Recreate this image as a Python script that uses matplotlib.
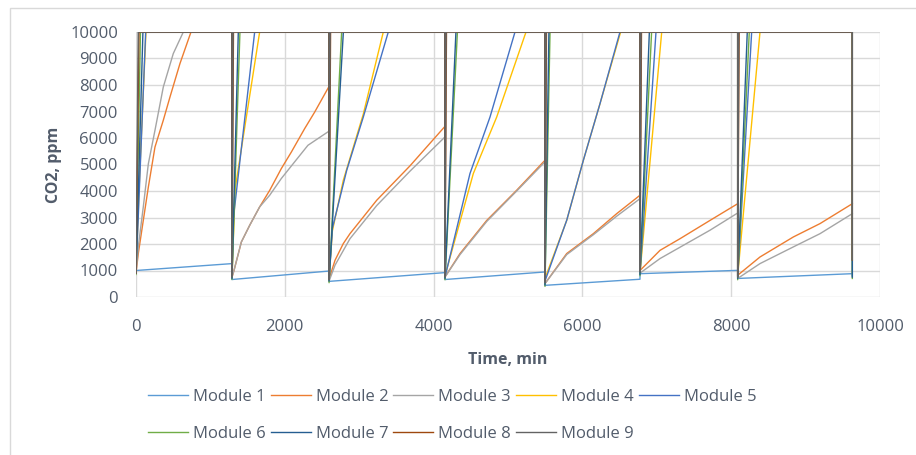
import matplotlib
matplotlib.use('Agg')
import matplotlib.pyplot as plt
from matplotlib.patches import Rectangle

# CO2 readings of 9 modules, time in minutes
m1_t = [0, 1290, 1290, 2595, 2595, 4153, 4153, 5497, 5497, 6774, 6774, 8087, 8087, 9628]
m1_v = [1000, 1260, 660, 980, 590, 920, 660, 945, 440, 670, 880, 1005, 700, 880]

m2_t = [0, 31, 98, 166, 255, 367, 457, 591, 739, 1290,
        1290, 1317, 1416, 1528, 1662, 1797, 1953, 2088, 2267, 2402, 2595,
        2595, 2675, 2786, 2876, 3235, 3683, 4153,
        4153, 4355, 4714, 5117, 5497,
        5497, 5789, 6147, 6461, 6774,
        6774, 7043, 7312, 7715, 8087,
        8087, 8387, 8835, 9194, 9628]
m2_v = [900, 1640, 2890, 4150, 5660, 6670, 7550, 8810, 10000, 10000,
        750, 1000, 2075, 2705, 3400, 4025, 4845, 5470, 6355, 6980, 7950,
        680, 1385, 2015, 2390, 3650, 4950, 6440,
        755, 1640, 2890, 4030, 5160,
        505, 1640, 2390, 3145, 3840,
        1000, 1760, 2200, 2890, 3520,
        820, 1510, 2265, 2770, 3520]

m3_t = [0, 31, 98, 166, 255, 367, 501, 636, 1290,
        1290, 1317, 1416, 1528, 1662, 1797, 1953, 2131, 2311, 2595,
        2595, 2675, 2876, 3235, 3683, 4153,
        4153, 4355, 4714, 5117, 5497,
        5497, 5789, 6147, 6461, 6774,
        6774, 7043, 7715, 8087,
        8087, 8387, 8835, 9194, 9628]
m3_v = [900, 1900, 3400, 5030, 6290, 7925, 9185, 10000, 10000,
        750, 1000, 2075, 2705, 3400, 3840, 4470, 5095, 5725, 6260,
        600, 1200, 2200, 3450, 4750, 6040,
        755, 1600, 2850, 4000, 5100,
        505, 1600, 2350, 3050, 3710,
        900, 1450, 2520, 3170,
        700, 1260, 1890, 2390, 3145]

m4_t = [0, 40, 134, 1290, 1290, 1333, 1662, 2595, 2595, 2640, 2786, 3055, 3324, 4153,
        4153, 4534, 4848, 5242, 5497, 5497, 5789, 6013, 6237, 6514, 6774,
        6774, 7066, 8087, 8087, 8387, 9628, 9628]
m4_v = [900, 4000, 10000, 10000, 800, 4090, 10000, 10000, 700, 2500, 4400, 6900, 10000, 10000,
        800, 4660, 6790, 10000, 10000, 700, 2890, 5160, 7300, 10000, 10000,
        900, 10000, 10000, 800, 10000, 10000, 900]

m5_t = [0, 130, 1290, 1290, 1310, 1595, 2595, 2595, 2640, 2832, 3055, 3391, 4153,
        4153, 4489, 4758, 5094, 5497, 5497, 5789, 6013, 6237, 6505, 6774,
        6774, 6989, 8087, 8087, 8275, 9628, 9628]
m5_v = [900, 10000, 10000, 750, 3000, 10000, 10000, 650, 2600, 4780, 6790, 10000, 10000,
        750, 4660, 6790, 10000, 10000, 600, 2894, 5160, 7300, 10000, 10000,
        850, 10000, 10000, 750, 10000, 10000, 800]

m6_t = [0, 60, 1290, 1290, 1397, 2595, 2595, 2764, 4153, 4153, 4320, 5497, 5497, 5565,
        6774, 6774, 6930, 8087, 8087, 8243, 9628, 9628]
m6_v = [850, 10000, 10000, 660, 10000, 10000, 540, 10000, 10000, 650, 10000, 10000, 400, 10000,
        10000, 800, 10000, 10000, 650, 10000, 10000, 700]

m7_t = [0, 93, 1290, 1290, 1375, 2595, 2595, 2787, 4153, 4153, 4300, 5497, 5497, 5550,
        6774, 6774, 6900, 8087, 8087, 8216, 9628, 9628]
m7_v = [900, 10000, 10000, 700, 10000, 10000, 600, 10000, 10000, 700, 10000, 10000, 450, 10000,
        10000, 850, 10000, 10000, 700, 10000, 10000, 750]

m8_t = [0, 40, 1290, 1290, 1310, 2595, 2595, 2615, 4153, 4153, 4173, 5497, 5497, 5517,
        6774, 6774, 6794, 8087, 8087, 8107, 9628, 9628]
m8_v = [900, 10000, 10000, 800, 10000, 10000, 700, 10000, 10000, 800, 10000, 10000, 600, 10000,
        10000, 1000, 10000, 10000, 800, 10000, 10000, 1400]

m9_t = [0, 30, 1290, 1290, 1305, 2595, 2595, 2610, 4153, 4153, 4168, 5497, 5497, 5512,
        6774, 6774, 6789, 8087, 8087, 8102, 9628, 9628]
m9_v = [900, 10000, 10000, 750, 10000, 10000, 650, 10000, 10000, 750, 10000, 10000, 550, 10000,
        10000, 950, 10000, 10000, 750, 10000, 10000, 1400]

series = [(m1_t, m1_v), (m2_t, m2_v), (m3_t, m3_v), (m4_t, m4_v), (m5_t, m5_v),
          (m6_t, m6_v), (m7_t, m7_v), (m8_t, m8_v), (m9_t, m9_v)]
names = ['Module 1', 'Module 2', 'Module 3', 'Module 4', 'Module 5',
         'Module 6', 'Module 7', 'Module 8', 'Module 9']
colors = ['#5B9BD5', '#ED7D31', '#A5A5A5', '#FFC000', '#4472C4',
          '#70AD47', '#255E91', '#9E480E', '#636363']
text_color = '#525C6B'

plt.rcParams['font.family'] = ['Open Sans', 'DejaVu Sans']

fig = plt.figure(figsize=(9.16, 4.55), dpi=100)
ax = fig.add_axes([136 / 916, 1 - 297 / 455, 744 / 916, 265 / 455])

lines = []
for (t, v), name, c in zip(series, names, colors):
    ln, = ax.plot(t, v, color=c, lw=1.0, label=name)
    lines.append(ln)

ax.set_xlim(0, 10000)
ax.set_ylim(0, 10000)
ax.set_xticks(range(0, 10001, 2000))
ax.set_yticks(range(0, 10001, 1000))
ax.grid(True, color='#D9D9D9', lw=1.0)
ax.set_axisbelow(True)
for s in ax.spines.values():
    s.set_visible(False)
ax.tick_params(length=0, labelsize=12, labelcolor=text_color)
ax.tick_params(axis='x', pad=16)
ax.tick_params(axis='y', pad=13)

ax.set_xlabel('Time, min', fontsize=11.5, fontweight='bold', color=text_color, labelpad=12)
ax.set_ylabel('CO2, ppm', fontsize=11.5, fontweight='bold', color=text_color, labelpad=6)

# legend fills columns, reorder so rows read Module 1..5 / 6..9
order = [0, 5, 1, 6, 2, 7, 3, 8, 4]
leg = fig.legend([lines[i] for i in order], [names[i] for i in order],
                 ncol=5, loc='upper left', bbox_to_anchor=(148 / 916, 1 - 389 / 455),
                 frameon=False, fontsize=12, handlelength=2.4, handletextpad=0.3,
                 columnspacing=0.3, labelspacing=1.25, borderpad=0, borderaxespad=0)
for txt in leg.get_texts():
    txt.set_color(text_color)

# chart border
fig.patches.append(Rectangle((10 / 916, -0.1), 1.2, 1.1 - 8 / 455, transform=fig.transFigure,
                             fill=False, edgecolor='#D9D9D9', lw=1.0, clip_on=False))

plt.savefig('out.png', dpi=100)
